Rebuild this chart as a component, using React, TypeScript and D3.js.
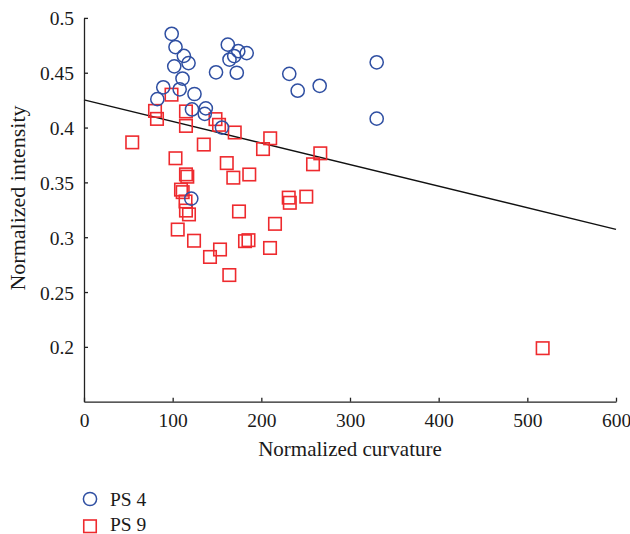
import React, { useEffect, useRef } from "react";
import * as d3 from "d3";

const ps4Curvature = [98.9, 103.2, 112.6, 117.9, 101.8, 162.2, 174.0, 183.5, 169.4, 164.1, 148.9, 172.3, 231.5, 111.1, 89.4, 107.9, 124.6, 82.7, 121.8, 137.4, 136.2, 155.6, 241.0, 265.8, 330.1, 330.1, 121.0];
const ps4Intensity = [0.4855, 0.4734, 0.4654, 0.4588, 0.4558, 0.4756, 0.4697, 0.4679, 0.4652, 0.462, 0.4504, 0.45, 0.449, 0.4447, 0.4367, 0.4349, 0.4306, 0.4259, 0.4165, 0.4175, 0.4125, 0.4, 0.4336, 0.4381, 0.4595, 0.4081, 0.3352];

const ps9Curvature = [98.7, 80.1, 82.3, 115.0, 115.0, 148.3, 152.3, 170.0, 210.0, 201.9, 54.4, 135.1, 103.2, 161.0, 266.5, 258.3, 115.0, 116.5, 168.4, 186.4, 109.4, 111.3, 114.5, 115.0, 118.4, 174.8, 230.9, 232.1, 250.7, 215.4, 105.7, 124.1, 181.6, 185.5, 209.8, 153.4, 142.1, 163.9, 517.3];
const ps9Intensity = [0.43, 0.4152, 0.4079, 0.4147, 0.4015, 0.4077, 0.4025, 0.3955, 0.3902, 0.3804, 0.3865, 0.3845, 0.372, 0.3676, 0.3765, 0.3665, 0.3573, 0.3552, 0.3543, 0.3572, 0.3434, 0.3411, 0.3326, 0.3243, 0.3208, 0.3235, 0.3361, 0.3314, 0.337, 0.3122, 0.307, 0.2968, 0.2964, 0.2973, 0.2902, 0.2888, 0.282, 0.2655, 0.1988];

const fitX = [0, 600];
const fitY = [0.4252, 0.3072];

const xTicks = [0, 100, 200, 300, 400, 500, 600];
const yTicks = [0.2, 0.25, 0.3, 0.35, 0.4, 0.45, 0.5];

const seriesNames = ["PS 4", "PS 9"];

const BLUE = "#2f4fa2";
const RED = "#ee2a2e";
const FONT = "'Liberation Serif', 'Times New Roman', serif";

export default function App() {
  const xAxisRef = useRef<SVGGElement>(null);
  const yAxisRef = useRef<SVGGElement>(null);

  const x = d3.scaleLinear().domain([0, 600]).range([84, 616]);
  const y = d3.scaleLinear().domain([0.15, 0.5]).range([401.7, 17.9]);

  useEffect(() => {
    const xa = d3
      .axisBottom(x)
      .tickValues(xTicks)
      .tickSizeInner(-4)
      .tickSizeOuter(0)
      .tickPadding(11)
      .tickFormat((d) => String(d));
    const ya = d3
      .axisLeft(y)
      .tickValues(yTicks)
      .tickSizeInner(-4)
      .tickSizeOuter(0)
      .tickPadding(10)
      .tickFormat((d) => String(+(+d).toFixed(2)));
    const gx = d3.select(xAxisRef.current!);
    gx.call(xa as any);
    const gy = d3.select(yAxisRef.current!);
    gy.call(ya as any);
    [gx, gy].forEach((g) => {
      g.select(".domain").attr("stroke", "#222").attr("stroke-width", 1.3);
      g.selectAll(".tick line").attr("stroke", "#222").attr("stroke-width", 1.3);
      g.selectAll(".tick text")
        .attr("fill", "#1a1a1a")
        .style("font-family", FONT)
        .style("font-size", "19.5px");
    });
    gy.selectAll(".tick text").attr("dy", "0.36em");
  }, []);

  const line = d3
    .line<number>()
    .x((_, i) => x(fitX[i]))
    .y((d) => y(d));

  const sq = 12.5;

  return (
    <svg
      width={630}
      height={534}
      style={{ position: "absolute", left: 0, top: 0, background: "#fff" }}
    >
      <path d={line(fitY) || ""} stroke="#111" strokeWidth={1.4} fill="none" />
      {ps9Curvature.map((cx, i) => (
        <rect
          key={"s" + i}
          x={x(cx) - sq / 2}
          y={y(ps9Intensity[i]) - sq / 2}
          width={sq}
          height={sq}
          fill="none"
          stroke={RED}
          strokeWidth={1.6}
        />
      ))}
      {ps4Curvature.map((cx, i) => (
        <circle
          key={"c" + i}
          cx={x(cx)}
          cy={y(ps4Intensity[i])}
          r={6.6}
          fill="none"
          stroke={BLUE}
          strokeWidth={1.5}
        />
      ))}
      <g ref={xAxisRef} transform={`translate(0,${y(0.15)})`} />
      <g ref={yAxisRef} transform={`translate(${x(0)},0)`} />
      <text
        x={350}
        y={456}
        textAnchor="middle"
        style={{ fontFamily: FONT, fontSize: "21px", fill: "#1a1a1a" }}
      >
        Normalized curvature
      </text>
      <text
        transform="translate(25,198) rotate(-90)"
        textAnchor="middle"
        style={{ fontFamily: FONT, fontSize: "22px", fill: "#1a1a1a" }}
      >
        Normalized intensity
      </text>
      <circle cx={90} cy={499} r={6.6} fill="none" stroke={BLUE} strokeWidth={1.5} />
      <text x={110} y={506} style={{ fontFamily: FONT, fontSize: "19.5px", fill: "#1a1a1a" }}>
        {seriesNames[0]}
      </text>
      <rect x={90 - sq / 2} y={520} width={sq} height={sq} fill="none" stroke={RED} strokeWidth={1.6} />
      <text x={110} y={531} style={{ fontFamily: FONT, fontSize: "19.5px", fill: "#1a1a1a" }}>
        {seriesNames[1]}
      </text>
    </svg>
  );
}
